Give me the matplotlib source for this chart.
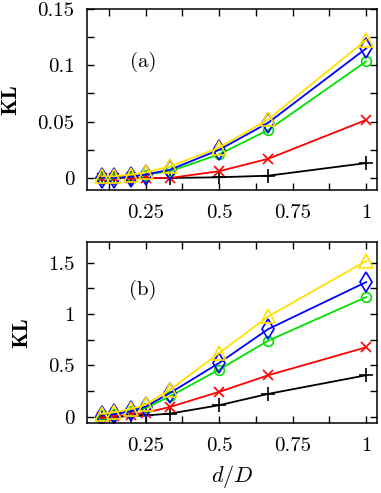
import matplotlib
matplotlib.use('Agg')
import matplotlib.pyplot as plt
import numpy as np

plt.rcParams['font.family'] = 'serif'
plt.rcParams['font.serif'] = ['cmr10', 'DejaVu Serif']
plt.rcParams['mathtext.fontset'] = 'cm'
plt.rcParams['axes.unicode_minus'] = False

# d/D values
x = [1/10, 1/7, 1/5, 1/4, 1/3, 1/2, 2/3, 1]

# panel (a)
a_black = [0, 0, 0, 0, 0, 0.0006, 0.002, 0.0132]
a_red = [0, 0, 0, 0, 0, 0.006, 0.017, 0.0515]
a_green = [0, 0, 0.001, 0.003, 0.006, 0.021, 0.0426, 0.1035]
a_blue = [0.0003, 0.0003, 0.001, 0.003, 0.0074, 0.025, 0.049, 0.115]
a_yellow = [0.0015, 0.0015, 0.003, 0.005, 0.0103, 0.027, 0.052, 0.1225]

# panel (b)
b_black = [0.001, 0.002, 0.005, 0.013, 0.032, 0.113, 0.223, 0.404]
b_red = [0.003, 0.008, 0.02, 0.04, 0.097, 0.243, 0.404, 0.676]
b_green = [0.015, 0.03, 0.055, 0.087, 0.2, 0.46, 0.74, 1.164]
b_blue = [0.01, 0.025, 0.055, 0.1, 0.233, 0.524, 0.853, 1.31]
b_yellow = [0.03, 0.045, 0.078, 0.12, 0.265, 0.62, 0.976, 1.515]

styles = [
    ('black', '+', 10, 'black'),
    ('red', 'x', 7, '#ff0000'),
    ('green', 'o', 7, '#00e000'),
    ('blue', 'd', 10, '#0000ff'),
    ('yellow', '^', 10, '#ffe000'),
]

fig = plt.figure(figsize=(3.81, 4.93), dpi=100)
ax1 = fig.add_axes([0.2283, 0.6146, 0.7612, 0.3671])
ax2 = fig.add_axes([0.2283, 0.1420, 0.7612, 0.3671])

panels = [
    (ax1, [a_black, a_red, a_green, a_blue, a_yellow], '(a)', (-0.0107, 0.15),
     [0, 0.05, 0.1, 0.15], ['0', '0.05', '0.1', '0.15'], 0.025, 0.707),
    (ax2, [b_black, b_red, b_green, b_blue, b_yellow], '(b)', (-0.06, 1.7),
     [0, 0.5, 1, 1.5], ['0', '0.5', '1', '1.5'], 0.25, 0.735),
]

for ax, series, tag, ylim, yt, ytl, yminor, ty in panels:
    for y, (name, m, ms, c) in zip(series, styles):
        ax.plot(x, y, color=c, lw=1.3, marker=m, ms=ms, mfc='none',
                mec=c, mew=1.2)
    ax.set_xlim(0.05, 1.037)
    ax.set_ylim(*ylim)
    ax.set_xticks([0.25, 0.5, 0.75, 1])
    ax.set_xticklabels(['0.25', '0.5', '0.75', '1'])
    ax.set_xticks(np.arange(0.125, 1.01, 0.125), minor=True)
    ax.set_yticks(yt)
    ax.set_yticklabels(ytl)
    ax.set_yticks(np.arange(0, ylim[1] + 1e-9, yminor), minor=True)
    ax.tick_params(which='both', direction='in', top=True, right=True,
                   length=5, width=1, labelsize=15)
    ax.tick_params(axis='x', pad=10)
    ax.tick_params(axis='y', pad=9)
    for s in ax.spines.values():
        s.set_linewidth(1.1)
    ax.set_ylabel('KL', fontsize=16, family=['cmb10', 'DejaVu Serif'],
                  labelpad=12)
    ax.text(0.193, ty, tag, transform=ax.transAxes, fontsize=15,
            ha='center', va='center')

ax2.set_xlabel('$d/D$', fontsize=16, labelpad=6)

fig.savefig('out.png', dpi=100)
